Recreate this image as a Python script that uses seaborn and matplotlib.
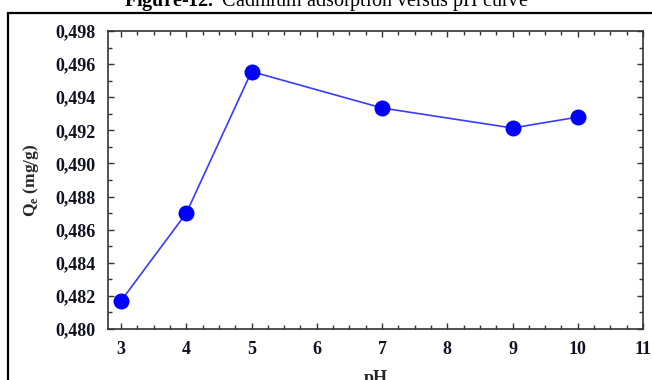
import matplotlib
matplotlib.use("Agg")
import matplotlib.pyplot as plt
from matplotlib.ticker import FuncFormatter, MultipleLocator
from matplotlib.patches import Rectangle
import seaborn as sns
import pandas as pd

# Measured adsorption capacity at each pH
ph_values = [3, 4, 5, 7, 9, 10]
qe_values = [0.4817, 0.4870, 0.49555, 0.49335, 0.49214, 0.4928]
x_ticks = [3, 4, 5, 6, 7, 8, 9, 10, 11]
y_ticks = [0.480, 0.482, 0.484, 0.486, 0.488, 0.490, 0.492, 0.494, 0.496, 0.498]

df = pd.DataFrame({"pH": ph_values, "Qe": qe_values})

sns.set_theme(style="white")
plt.rcParams["font.family"] = ["Liberation Serif", "DejaVu Serif"]
plt.rcParams["mathtext.fontset"] = "custom"
plt.rcParams["mathtext.rm"] = "Liberation Serif"
plt.rcParams["mathtext.bf"] = "Liberation Serif:bold"

W, H = 652, 380
fig = plt.figure(figsize=(W / 100, H / 100), dpi=100)
fig.patch.set_facecolor("white")

ax = fig.add_axes([108 / W, (H - 329) / H, (643 - 108) / W, (329 - 31) / H])

sns.lineplot(data=df, x="pH", y="Qe", ax=ax, color="#3a3aff", linewidth=1.2,
             marker="o", markersize=11.5, markerfacecolor="#0000ff",
             markeredgecolor="#0000ff", markeredgewidth=0)

ax.set_xlim(2.8, 11.0)
ax.set_ylim(0.480, 0.498)
ax.set_xticks(x_ticks)
ax.set_yticks(y_ticks)
ax.xaxis.set_minor_locator(MultipleLocator(0.25))
ax.yaxis.set_minor_locator(MultipleLocator(0.001))
ax.yaxis.set_major_formatter(FuncFormatter(lambda v, p: f"{v:.3f}".replace(".", ",")))
ax.xaxis.set_major_formatter(FuncFormatter(lambda v, p: f"{v:g}"))

ax.tick_params(axis="both", which="both", direction="in", top=True, right=True,
               bottom=True, left=True, color="#333333")
ax.tick_params(axis="both", which="major", length=4, width=1, labelsize=13, pad=9)
ax.tick_params(axis="both", which="minor", length=3, width=1)
for lab in ax.get_xticklabels() + ax.get_yticklabels():
    lab.set_fontweight("bold")
    lab.set_color("#111122")

for s in ax.spines.values():
    s.set_color("#333333")
    s.set_linewidth(1.2)

ax.set_xlabel("pH", fontsize=13, fontweight="bold", labelpad=8)
ax.set_ylabel(r"Q$_\mathbf{e}$ (mg/g)", fontsize=12.5, fontweight="bold", labelpad=10)
ax.grid(False)

# outer frame around the figure panel
fig.patches.append(Rectangle((8 / W, -0.05), 1.2, (H - 13) / H + 0.05,
                             transform=fig.transFigure, fill=False,
                             edgecolor="black", linewidth=1.6))

# caption, partly above the page edge
fig.text(0.5, (H - 6) / H, r"$\mathbf{Figure\text{-}12.}$ Cadmium adsorption versus pH curve",
         ha="center", va="baseline", fontsize=14.5, color="black")

fig.savefig("out.png", dpi=100)
